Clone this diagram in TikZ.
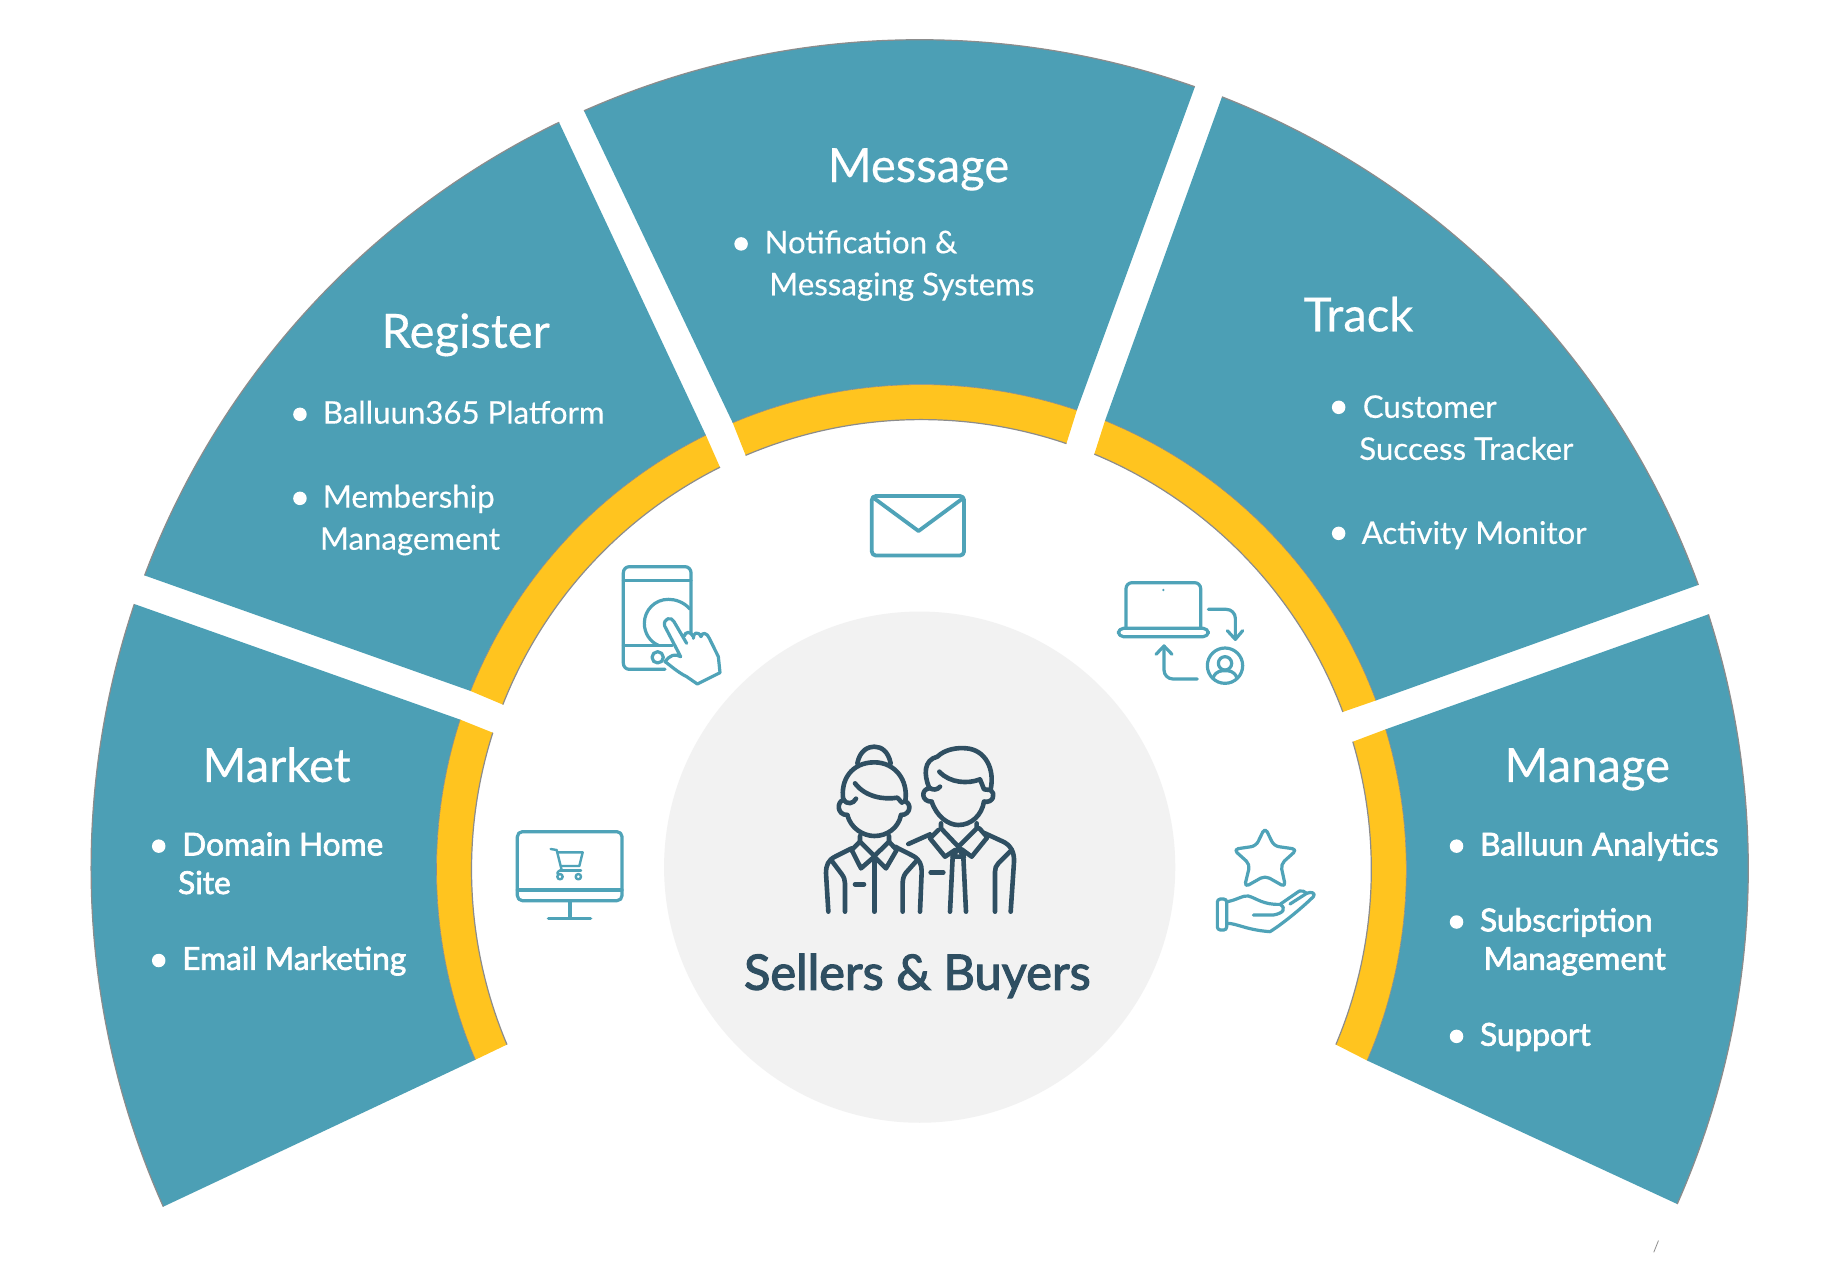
\documentclass[tikz,border=0pt]{standalone}
\usepackage{fontspec}
\setmainfont[FakeBold=0.35]{Lato}
\newfontfamily\heavyfont[FakeBold=2.2]{Lato}
\newfontfamily\centerfont[FakeBold=2.4]{Lato}
\definecolor{tealfill}{HTML}{4C9FB5}
\definecolor{amberfill}{HTML}{FFC41F}
\definecolor{hubfill}{HTML}{F2F2F2}
\definecolor{inkdark}{HTML}{2F4F62}
\definecolor{iconline}{HTML}{4FA3B8}
\definecolor{rimgray}{HTML}{8C8C8C}
\tikzset{
  headline/.style={text=white,anchor=base,inner sep=0pt,font=\fontsize{47.2}{50}\selectfont},
  bodyline/.style={text=white,anchor=base west,inner sep=0pt,font=\fontsize{31.2}{33}\selectfont},
  heavyline/.style={text=white,anchor=base west,inner sep=0pt,font=\heavyfont\fontsize{31.6}{33}\selectfont},
  hubtitle/.style={text=inkdark,anchor=base,inner sep=0pt,font=\centerfont\fontsize{48.8}{50}\selectfont},
  bulletdot/.style={circle,fill=white,inner sep=0pt,minimum size=13.5pt},
  rim/.style={draw=rimgray,line width=1.2pt},
  iconstroke/.style={draw=iconline,line width=3.2pt,line cap=round,line join=round},
  peoplestroke/.style={draw=inkdark,line width=4.6pt,line cap=round,line join=round},
  cropunits/.style={x=0.33333pt,y=-0.33333pt}
}
% Ring sector: teal band, amber band and their rims.
% The amber band sits on a circle centred slightly off the teal rim's centre.
% #1,#2 outer angles; #3,#4 angles where teal meets amber; #5,#6 inner angles of amber
\newcommand{\ringsector}[6]{%
  \begin{scope}[shift={(1.5,-1)}]
    \coordinate (midA) at (#3:415.5);
    \coordinate (midB) at (#4:415.5);
    \coordinate (inA) at (#5:385.5);
    \coordinate (inB) at (#6:385.5);
  \end{scope}
  \fill[tealfill] (#1:710) arc[start angle=#1,end angle=#2,radius=710]
     -- (midB) arc[start angle=#4,end angle=#3,radius=415.5] -- cycle;
  \fill[amberfill] (midA) arc[start angle=#3,end angle=#4,radius=415.5]
     -- (inB) arc[start angle=#6,end angle=#5,radius=385.5] -- cycle;
  \draw[rim] (#1:710) arc[start angle=#1,end angle=#2,radius=710];
  \draw[rim] (inA) arc[start angle=#5,end angle=#6,radius=385.5];
  \draw[draw=rimgray,line width=0.6pt] (midA) arc[start angle=#3,end angle=#4,radius=415.5];
}
\begin{document}
\begin{tikzpicture}[x=1.16709pt,y=-1.16709pt]
\useasboundingbox (0,0) rectangle (1568,1081);
\fill[white] (0,0) rectangle (1568,1081);

\begin{scope}[shift={(788,744)},y=1.16709pt]
  \ringsector{204.1}{161.4}{203.1}{162.0}{202.9}{162.3}% Market
  \ringsector{159.3}{115.8}{158.4}{116.4}{158.5}{116.6}% Register
  \ringsector{113.9}{70.6}{112.9}{71.3}{113.0}{71.2}% Message
  \ringsector{68.6}{20.0}{67.75}{20.4}{67.4}{20.5}% Track
  \ringsector{17.85}{-23.9}{16.8}{-23.2}{16.5}{-22.9}% Manage
\end{scope}
\fill[hubfill] (788,743) circle[radius=219];

% stray tick near the lower right corner
\draw[draw=rimgray,line width=0.8pt] (1421,1063) -- (1417,1073);

% Section headings
\node[headline] (tMessage) at (787,156) {Message};
\node[headline] (tRegister) at (399,298) {Register};
\node[headline] (tTrack) at (1164,284) {Track};
\node[headline] (tMarket) at (237,670) {Market};
\node[headline] (tManage) at (1360,670) {Manage};
\node[hubtitle] (tHub) at (786,848) {Sellers \& Buyers};

% Message
\node[bulletdot] (dA) at (635,209) {};
\node[bodyline] (lA1) at (655,217) {Notification \&};
\node[bodyline] (lA2) at (659,253) {Messaging Systems};
% Register
\node[bulletdot] (dB) at (257,355) {};
\node[bodyline] (lB1) at (276.5,363) {Balluun365 Platform};
\node[bulletdot] (dC) at (257,427) {};
\node[bodyline] (lC1) at (276.5,435) {Membership};
\node[bodyline] (lC2) at (274,471) {Management};
% Track
\node[bulletdot] (dD) at (1147,349) {};
\node[bodyline] (lD1) at (1167.5,358) {Customer};
\node[bodyline] (lD2) at (1164.5,394) {Success Tracker};
\node[bulletdot] (dE) at (1147,457) {};
\node[bodyline] (lE1) at (1166.5,466) {Activity Monitor};
% Market
\node[bulletdot] (dF) at (136,725) {};
\node[heavyline] (lF1) at (156,733) {Domain Home};
\node[heavyline] (lF2) at (152.5,766) {Site};
\node[bulletdot] (dG) at (136,823) {};
\node[heavyline] (lG1) at (156,831) {Email Marketing};
% Manage
\node[bulletdot] (dH) at (1248,725) {};
\node[heavyline] (lH1) at (1268,733) {Balluun Analytics};
\node[bulletdot] (dI) at (1248,790) {};
\node[heavyline] (lI1) at (1268,798) {Subscription};
\node[heavyline] (lI2) at (1271,831) {Management};
\node[bulletdot] (dJ) at (1248,888) {};
\node[heavyline] (lJ1) at (1268,896) {Support};

% People icon
\begin{scope}[shift={(780pt,-700pt)},cropunits,peoplestroke]
  % woman
  \draw (232,190) .. controls (240,150) and (265,140) .. (283,140) .. controls (305,140) and (325,155) .. (332,190);
  \draw (190,300) .. controls (180,240) and (215,187) .. (283,187) .. controls (345,187) and (385,240) .. (376,302);
  \draw (190,300) .. controls (170,305) and (170,345) .. (202,345);
  \draw (190,298) .. controls (200,315) and (220,312) .. (228,296);
  \draw (202,345) .. controls (212,385) and (250,408) .. (283,408) .. controls (320,408) and (355,385) .. (363,345);
  \draw (376,305) .. controls (395,310) and (392,345) .. (363,345);
  \draw (225,250) .. controls (255,290) and (310,300) .. (352,293) -- (366,308);
  \draw (240,408) -- (240,425) -- (283,468) -- (327,425) -- (327,408);
  \draw (240,425) -- (215,450) -- (243,505) -- (283,470) -- (318,505) -- (350,450) -- (327,425);
  \draw (283,470) -- (283,635);
  \draw (215,445) -- (165,470) .. controls (145,480) and (138,495) .. (138,520) -- (145,635);
  \draw (155,482) -- (185,522) .. controls (192,532) and (195,540) .. (195,550) -- (195,635);
  \draw (345,440) -- (400,468) .. controls (420,480) and (425,495) .. (425,515) -- (420,635);
  \draw (410,482) -- (378,518) .. controls (370,528) and (368,540) .. (368,550) -- (368,635);
  \draw (225,553) -- (252,553);
  % man
  \draw (447,262) .. controls (432,225) and (430,180) .. (472,170) .. controls (495,148) and (530,142) .. (560,145) .. controls (615,150) and (645,205) .. (632,268);
  \draw (447,265) .. controls (423,268) and (423,305) .. (455,305);
  \draw (447,262) .. controls (458,272) and (472,270) .. (480,260);
  \draw (632,270) .. controls (648,280) and (640,310) .. (612,305);
  \draw (455,305) .. controls (470,350) and (505,375) .. (535,375) .. controls (575,375) and (605,345) .. (612,305);
  \draw (478,215) .. controls (510,250) and (565,252) .. (600,238) -- (612,268) -- (630,270);
  \draw (483,370) -- (483,385) -- (535,440) -- (590,385) -- (590,370);
  \draw (475,390) -- (450,415) -- (495,470) -- (525,450);
  \draw (598,385) -- (622,412) -- (575,470) -- (545,448);
  \draw (518,470) -- (535,445) -- (552,470) -- cycle;
  \draw (518,470) -- (510,635);
  \draw (550,470) -- (558,635);
  \draw (450,403) -- (385,432);
  \draw (615,400) -- (665,423) .. controls (695,435) and (703,460) .. (702,485) -- (692,635);
  \draw (695,450) -- (655,490) .. controls (648,497) and (645,505) .. (645,515) -- (645,635);
  \draw (452,517) -- (490,517);
\end{scope}

% Monitor with cart
\begin{scope}[shift={(500pt,-810pt)},cropunits,iconstroke]
  \draw[rounded corners=5pt] (52,65) rectangle (366,272);
  \draw (52,240) -- (366,240);
  \draw (210,272) -- (210,325);
  \draw (145,325) -- (272,325);
  \draw[line width=2.4pt] (152,117) -- (170,120) -- (185,180) .. controls (170,182) and (170,195) .. (175,192);
  \draw[line width=2.4pt] (175,127) -- (248,127) -- (238,168) -- (183,168);
  \draw[line width=2.4pt] (180,182) -- (243,182);
  \draw[line width=2.4pt] (180,200) circle[radius=8];
  \draw[line width=2.4pt] (235,200) circle[radius=8];
\end{scope}

% Tablet with pointing hand
\begin{scope}[shift={(590pt,-540pt)},cropunits,iconstroke]
  \draw[rounded corners=6pt] (225,388) -- (100,388) -- (100,80) -- (303,80) -- (303,282);
  \draw (100,122) -- (303,122);
  \draw (100,316) -- (247,316);
  \draw (300,207) .. controls (280,185) and (255,178) .. (235,178) .. controls (195,178) and (163,210) .. (163,250) .. controls (163,280) and (180,305) .. (205,316);
  \draw (203,352) circle[radius=17];
  \draw (290,310) -- (252,245) .. controls (245,228) and (218,235) .. (224,258) -- (272,350)
        .. controls (255,340) and (240,345) .. (225,365) .. controls (240,375) and (260,395) .. (290,410)
        -- (322,432) -- (390,398) -- (385,350) -- (358,295) .. controls (352,278) and (335,275) .. (333,290)
        (333,290) .. controls (325,272) and (308,278) .. (310,295)
        (310,290) .. controls (302,272) and (285,275) .. (283,288);
\end{scope}

% Envelope
\begin{scope}[iconstroke]
  \draw[line width=3.8pt,rounded corners=4pt] (747,425) rectangle (826,476);
  \draw[line width=3.8pt] (749,427) -- (787,455) -- (825,427);
\end{scope}

% Laptop and user exchange
\begin{scope}[shift={(1090pt,-560pt)},cropunits,iconstroke]
  \draw[rounded corners=6pt] (108,205) -- (108,68) -- (332,68) -- (332,205);
  \draw[rounded corners=5pt] (85,205) -- (355,205) -- (355,230) -- (85,230) -- cycle;
  \fill[iconline] (220,90) circle[radius=4];
  \draw[rounded corners=9pt] (355,148) -- (436,148) -- (436,238);
  \draw (412,212) -- (436,238) -- (458,212);
  \draw[rounded corners=9pt] (322,357) -- (222,357) -- (222,258);
  \draw (198,283) -- (222,258) -- (246,283);
  \draw (405,317) circle[radius=53];
  \draw (405,310) circle[radius=20];
  \draw (370,352) .. controls (378,332) and (395,332) .. (405,332) .. controls (415,332) and (432,332) .. (440,352);
\end{scope}

% Star over an open hand
\begin{scope}[shift={(1190pt,-810pt)},cropunits,iconstroke]
  \draw[rounded corners=5pt] (225,52) -- (252,108) -- (322,118) -- (272,163) -- (287,232) -- (225,197) -- (163,232) -- (180,163) -- (130,118) -- (198,108) -- cycle;
  \draw[rounded corners=3pt] (82,267) rectangle (110,360);
  \draw (112,275) .. controls (140,270) and (160,255) .. (175,258) .. controls (200,265) and (220,285) .. (270,283) -- (328,243);
  \draw (112,340) .. controls (140,340) and (170,360) .. (240,365) .. controls (280,340) and (340,290) .. (370,260) .. controls (378,250) and (365,243) .. (350,250) -- (300,282);
  \draw (328,243) .. controls (335,240) and (345,245) .. (350,250);
  \draw (190,315) -- (250,315) .. controls (280,310) and (290,295) .. (270,283);
\end{scope}
\end{tikzpicture}
\end{document}
